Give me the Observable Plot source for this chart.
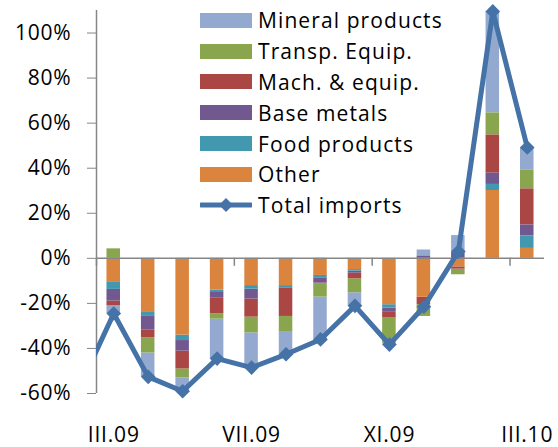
<!DOCTYPE html>
<html><head><meta charset="utf-8">
<script src="https://cdn.jsdelivr.net/npm/d3@7"></script>
<script src="https://cdn.jsdelivr.net/npm/@observablehq/plot@0.6"></script>
<style>
body{margin:0;background:#fff;}
#wrap{position:relative;width:558px;height:447px;font-family:"Open Sans",sans-serif;}
#legend{position:absolute;left:200px;top:5px;}
.row{display:flex;align-items:center;height:30.8px;font-size:21px;letter-spacing:1.1px;color:#000;white-space:nowrap;}
.row svg{margin-right:6px;flex:none;}
</style></head><body><div id="wrap"><div id="legend"></div></div>
<script>
// Months: the first one (II.09) is only used by the total line, which is clipped at the plot edge
const months = ["II.09","III.09","IV.09","V.09","VI.09","VII.09","VIII.09","IX.09","X.09","XI.09","XII.09","I.10","II.10","III.10"];
const xLabels = ["III.09","VII.09","XI.09","III.10"];
const yTicks = [-60,-40,-20,0,20,40,60,80,100];

// Series values (% contributions), for III.09 .. III.10
const mineral = [-3.4,-10.7,-5.9,-17.7,-15.5,-10.3,-19.4,-5.9,-0.4, 2.7, 7.6,45.1,10.1];
const transp  = [ 4.2, -6.7,-4.0, -2.4, -7.0, -6.7, -5.9,-6.2,-11.2,-5.2,-2.5, 9.8, 8.3];
const mach    = [-2.1, -3.4,-7.9, -7.1, -8.0,-12.4, -0.3,-2.5,-2.8,-3.3,-1.0,16.9,16.0];
const base    = [-5.2, -6.4,-4.7, -2.7, -4.4, -0.3, -2.1,-0.9,-1.6, 1.0, 2.5, 5.0, 4.9];
const food    = [-3.1, -1.8,-2.4, -0.7, -1.6, -1.0, -1.3,-0.7,-1.5, 0.0, 0.0, 2.7, 5.5];
const other   = [-10.7,-23.7,-34.1,-14.1,-12.1,-12.1,-7.6,-5.0,-20.6,-17.3,-3.8,30.1, 4.4];
// Total imports, II.09 .. III.10
const totals  = [-57.5,-24.5,-52.6,-59.0,-44.5,-48.5,-42.6,-36.0,-21.1,-38.3,-21.5,3.0,109.6,49.2];

const seriesNames = ["Mineral products","Transp. Equip.","Mach. & equip.","Base metals","Food products","Other"];
const seriesValues = [mineral, transp, mach, base, food, other];
const seriesColors = ["#93A9CF","#89A54E","#AA4643","#71588F","#4198AF","#DB843D"];
const lineName = "Total imports";
const lineColor = "#4572A7";

const stackOrder = seriesNames.slice().reverse(); // Other closest to zero
const records = [];
seriesNames.forEach((name, s) => {
  seriesValues[s].forEach((v, j) => { if (v !== 0) records.push({i: j + 1, cat: name, v}); });
});
const lineData = totals.map((v, i) => ({i, v}));

const chart = Plot.plot({
  width: 558, height: 447,
  marginLeft: 96, marginRight: 14, marginTop: 10, marginBottom: 54,
  style: {fontFamily: '"Open Sans", sans-serif', fontSize: "21px", letterSpacing: "0.8px", background: "white", overflow: "visible"},
  x: {type: "linear", domain: [0.5, 13.5]},
  y: {domain: [-60, 110]},
  color: {domain: seriesNames, range: seriesColors},
  marks: [
    Plot.rect(records, Plot.stackY({x: "i", x1: d => d.i - 0.196, x2: d => d.i + 0.196, y: "v", fill: "cat", order: stackOrder})),
    Plot.ruleY([0], {stroke: "#868686", strokeWidth: 1.5}),
    Plot.ruleX([0.5, 4.5, 8.5, 12.5], {y1: 0, y2: 0, insetBottom: -8, stroke: "#868686", strokeWidth: 1.5}),
    Plot.ruleX([0.5], {stroke: "#868686", strokeWidth: 1.5}),
    Plot.axisY({ticks: yTicks, tickFormat: d => d + "%", tickSize: 9, tickPadding: 16, stroke: "#868686", fill: "black", label: null}),
    Plot.axisX({ticks: xLabels.map(l => months.indexOf(l)), tickFormat: i => months[i], tickSize: 0, tickPadding: 34, fill: "black", label: null}),
    Plot.line(lineData, {x: "i", y: "v", stroke: lineColor, strokeWidth: 5, strokeLinejoin: "round", clip: true}),
    Plot.dot(lineData.slice(1), {x: "i", y: "v", symbol: "diamond2", r: 6.6, fill: lineColor, stroke: null})
  ]
});
document.getElementById("wrap").prepend(chart);

// Legend (overlaid inside the plot area, as in the original)
const legend = document.getElementById("legend");
seriesNames.forEach((name, s) => {
  const row = document.createElement("div");
  row.className = "row";
  row.innerHTML = `<svg width="52" height="15"><rect width="52" height="15" fill="${seriesColors[s]}"/></svg><span>${name}</span>`;
  legend.appendChild(row);
});
const lrow = document.createElement("div");
lrow.className = "row";
lrow.innerHTML = `<svg width="52" height="16"><line x1="1" x2="51" y1="8" y2="8" stroke="${lineColor}" stroke-width="5" stroke-linecap="round"/><path d="M26,1 L33,8 L26,15 L19,8 Z" fill="${lineColor}"/></svg><span>${lineName}</span>`;
legend.appendChild(lrow);
</script>
</body></html>
